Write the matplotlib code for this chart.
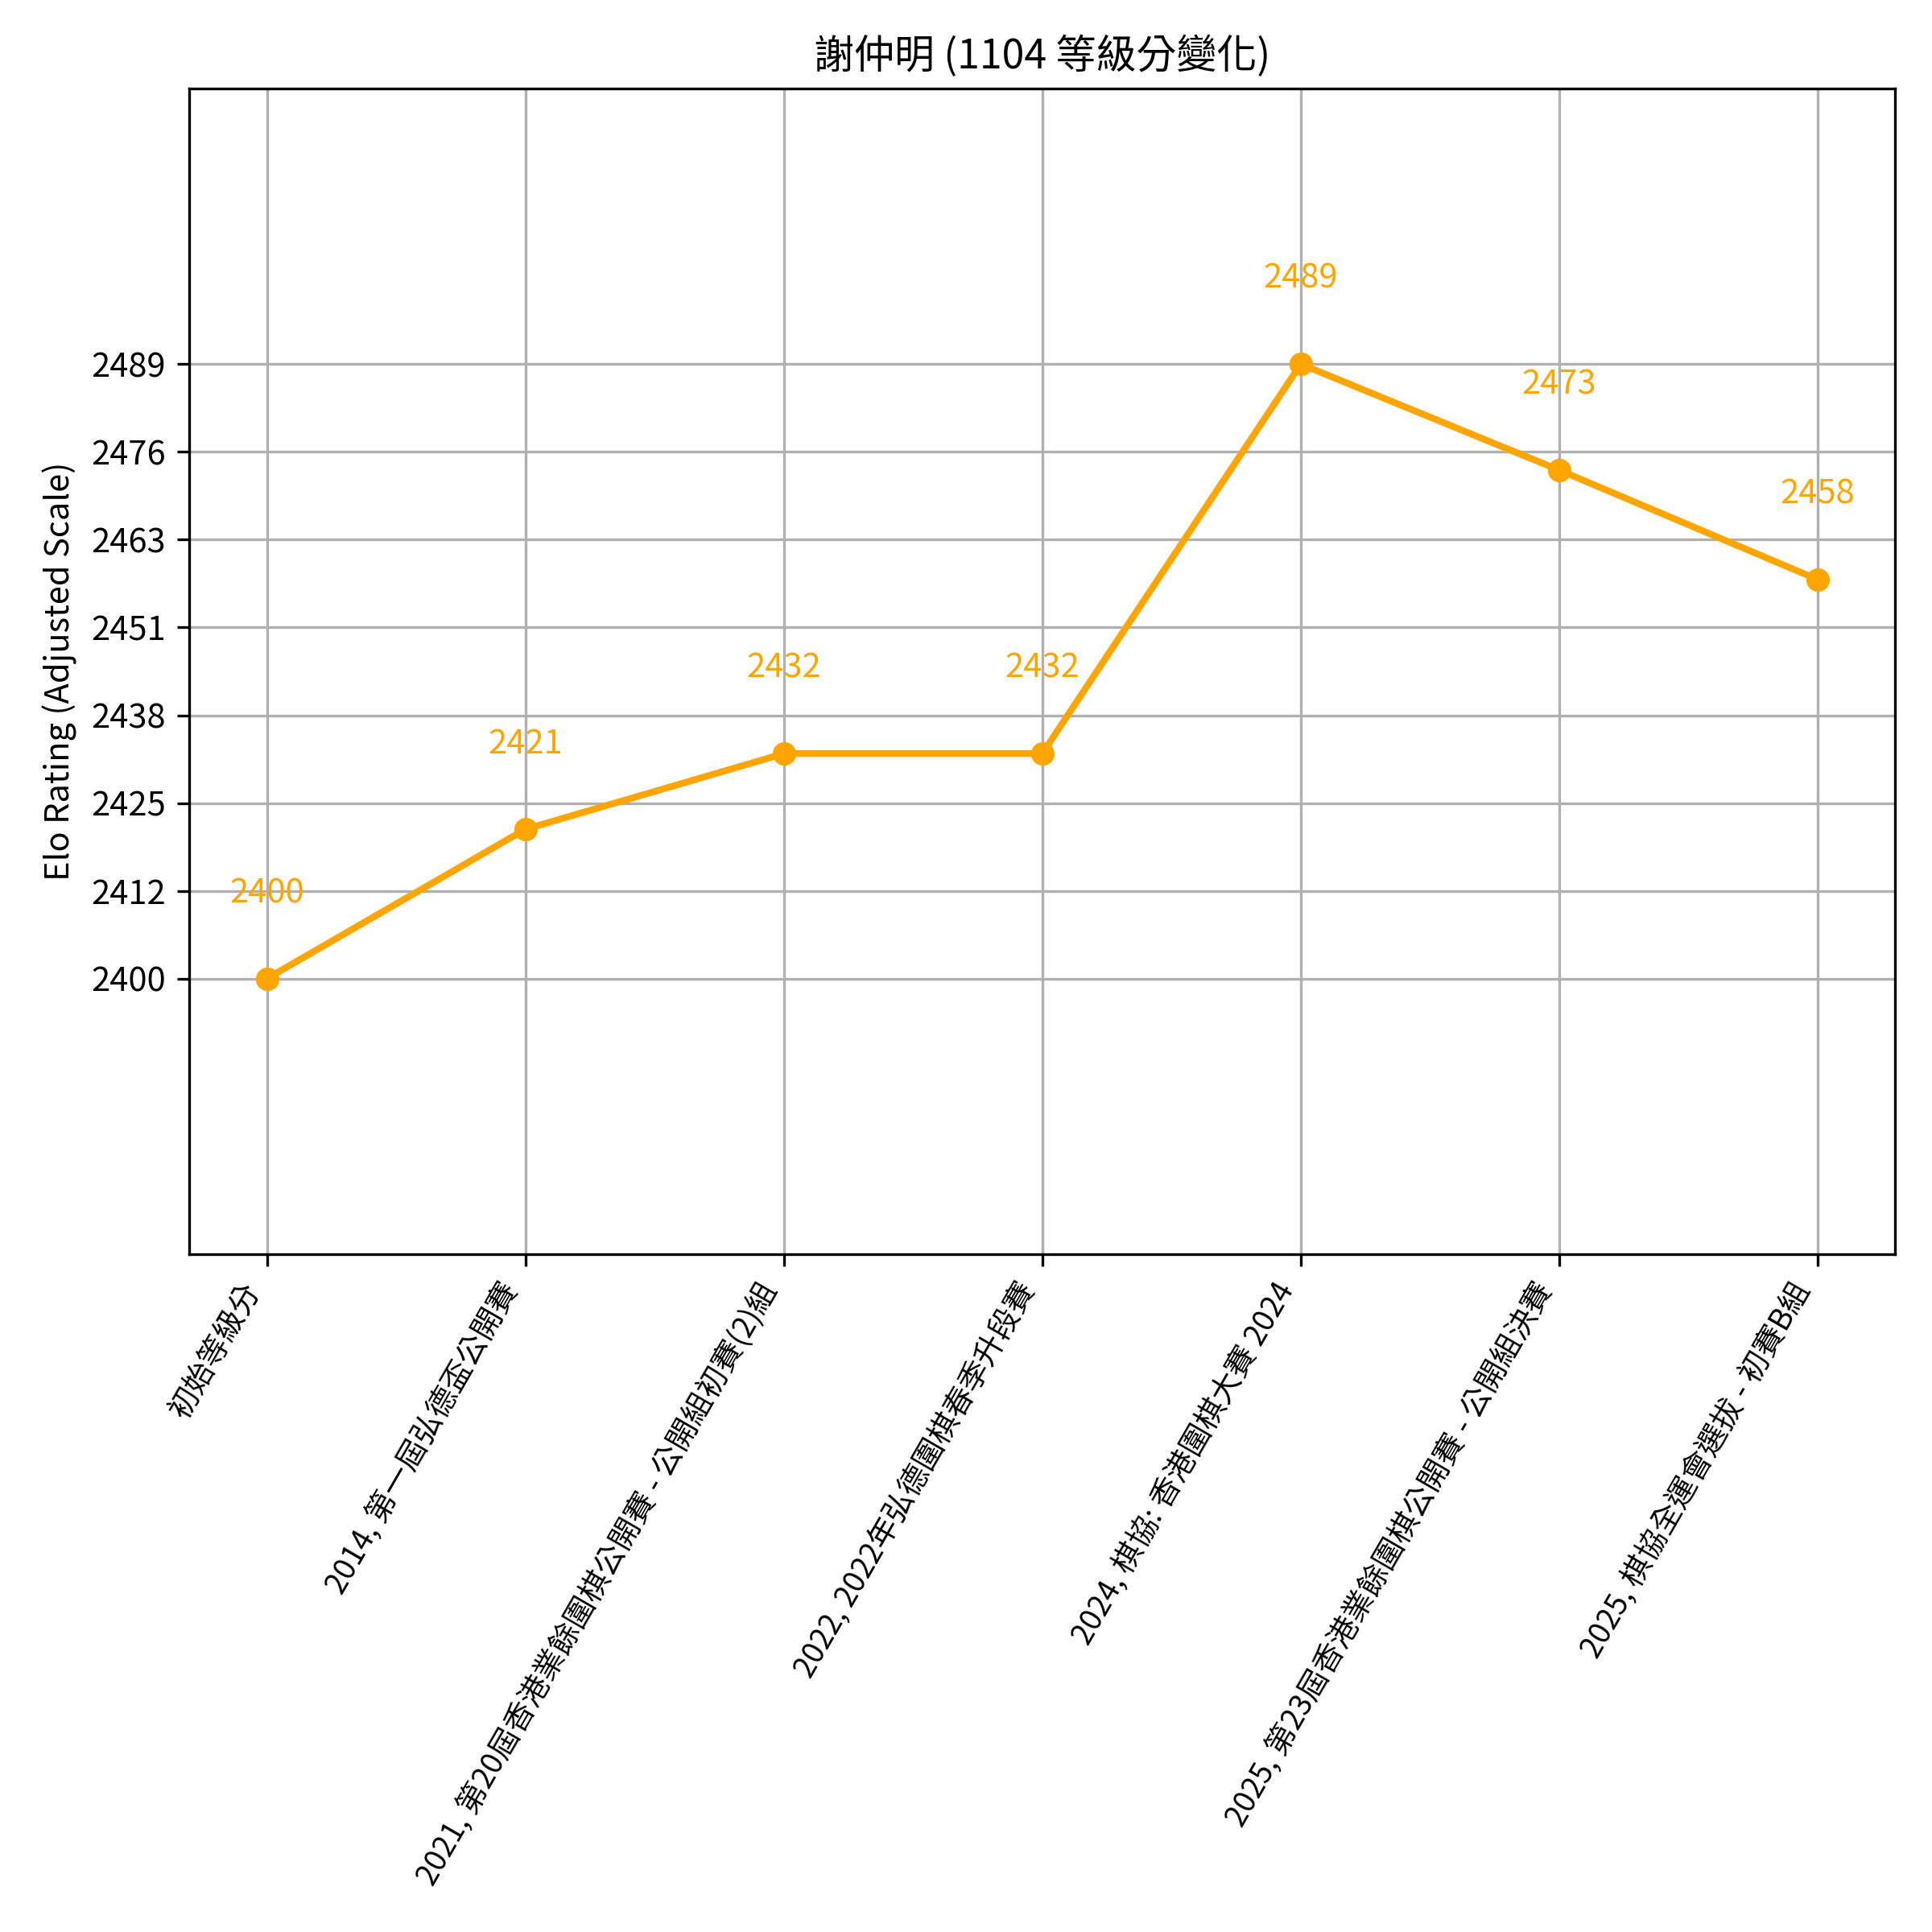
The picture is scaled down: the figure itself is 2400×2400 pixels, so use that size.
import matplotlib
matplotlib.use("Agg")
import matplotlib.pyplot as plt
import numpy as np

plt.rcParams['font.family'] = ['Noto Sans CJK TC', 'DejaVu Sans']

# data
events = [
    '初始等級分',
    '2014, 第一屆弘德盃公開賽',
    '2021, 第20屆香港業餘圍棋公開賽 - 公開組初賽(2)組',
    '2022, 2022年弘德圍棋春季升段賽',
    '2024, 棋協: 香港圍棋大賽 2024',
    '2025, 第23屆香港業餘圍棋公開賽 - 公開組決賽',
    '2025, 棋協全運會選拔 - 初賽B組',
]
ratings = [2400.0, 2421.7, 2432.7, 2432.7, 2489.3, 2473.9, 2458.0]
rating_labels = ['2400', '2421', '2432', '2432', '2489', '2473', '2458']
ytick_labels = ['2400', '2412', '2425', '2438', '2451', '2463', '2476', '2489']

fig, ax = plt.subplots(figsize=(8, 8), dpi=300)

x = np.arange(len(events))
ax.plot(x, ratings, marker='o', color='orange', linewidth=2, markersize=6)

for xi, r, lab in zip(x, ratings, rating_labels):
    ax.text(xi, r + 10, lab, ha='center', va='bottom', color='orange', fontsize=10)

ymin, ymax = min(ratings), max(ratings)
ax.set_ylim(ymin - 40, ymax + 40)
ax.set_yticks(np.linspace(ymin, ymax, len(ytick_labels)))
ax.set_yticklabels(ytick_labels)

ax.set_xticks(x)
ax.set_xticklabels(events, rotation=60, ha='right', fontsize=9)

ax.set_title('謝仲明 (1104 等級分變化)', fontsize=12)
ax.set_ylabel('Elo Rating (Adjusted Scale)')
ax.grid(True)

plt.subplots_adjust(left=0.098, right=0.981, top=0.954, bottom=0.351)
plt.savefig('out.png', dpi=300)
